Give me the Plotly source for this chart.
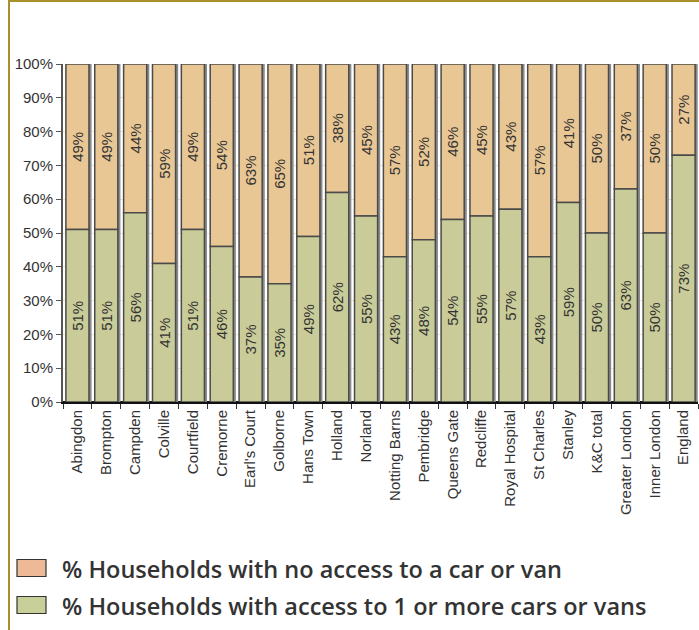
import plotly.graph_objects as go

# Car / van access by ward
wards = ['Abingdon', 'Brompton', 'Campden', 'Colville', 'Courtfield', 'Cremorne', "Earl's Court",
         'Golborne', 'Hans Town', 'Holland', 'Norland', 'Notting Barns', 'Pembridge', 'Queens Gate',
         'Redcliffe', 'Royal Hospital', 'St Charles', 'Stanley', 'K&C total', 'Greater London',
         'Inner London', 'England']
with_car = [51, 51, 56, 41, 51, 46, 37, 35, 49, 62, 55, 43, 48, 54, 55, 57, 43, 59, 50, 63, 50, 73]
no_car = [49, 49, 44, 59, 49, 54, 63, 65, 51, 38, 45, 57, 52, 46, 45, 43, 57, 41, 50, 37, 50, 27]
series_names = ['% Households with no access to a car or van',
                '% Households with access to 1 or more cars or vans']

bar_colors = ['#E9C795', '#C9CC98']
legend_colors = ['#EDB996', '#C9CF98']
outline = '#4a4a4a'
frame = '#A8902A'

W, H = 699, 630
L, R, T, B = 63, 1, 64, 228


def px_x(px):
    return (px - L) / (W - L - R)


def px_y(py):
    return (H - B - py) / (H - T - B)


fig = go.Figure()

totals = [a + b for a, b in zip(with_car, no_car)]

# drop shadow behind each bar
fig.add_trace(go.Bar(x=wards, y=totals, width=0.8, offset=-0.4 + 0.09,
                     marker_color='#8a8a8a', marker_line_width=0,
                     showlegend=False, hoverinfo='skip'))

fig.add_trace(go.Bar(x=wards, y=no_car, base=with_car, name=series_names[0],
                     width=0.8, offset=-0.4,
                     marker_color=bar_colors[0], marker_line_color=outline, marker_line_width=1.5,
                     text=[f'{v}%' for v in no_car], textposition='inside',
                     insidetextanchor='middle', textangle=-90, constraintext='none',
                     textfont=dict(family='Liberation Sans, Arial', size=15, color='#333333'),
                     showlegend=False))

fig.add_trace(go.Bar(x=wards, y=with_car, name=series_names[1],
                     width=0.8, offset=-0.4,
                     marker_color=bar_colors[1], marker_line_color=outline, marker_line_width=1.5,
                     text=[f'{v}%' for v in with_car], textposition='inside',
                     insidetextanchor='middle', textangle=-90, constraintext='none',
                     textfont=dict(family='Liberation Sans, Arial', size=15, color='#333333'),
                     showlegend=False))

fig.update_layout(
    width=W, height=H,
    margin=dict(l=L, r=R, t=T, b=B),
    barmode='overlay',
    uniformtext=dict(minsize=15, mode='show'),
    plot_bgcolor='white', paper_bgcolor='white',
    font=dict(family='Liberation Sans, Arial', size=15, color='#333333'),
)

fig.update_yaxes(range=[0, 100], tickvals=list(range(0, 101, 10)),
                 ticktext=[f'{v}%' for v in range(0, 101, 10)],
                 showgrid=True, gridcolor='#EFE6CC', gridwidth=1,
                 showline=True, linecolor='#555555', linewidth=2,
                 ticks='outside', ticklen=5, tickcolor='#555555',
                 zeroline=True, zerolinecolor='#111111', zerolinewidth=2,
                 tickfont=dict(size=15))

fig.update_xaxes(tickangle=-90, tickson='boundaries', ticks='outside', ticklen=5,
                 tickcolor='#333333', showline=True, linecolor='#111111', linewidth=2,
                 range=[-0.5, len(wards) - 0.5], tickfont=dict(size=15))

# page frame (left and top rules)
fig.add_shape(type='line', xref='paper', yref='paper',
              x0=px_x(9), x1=px_x(9), y0=px_y(0), y1=px_y(H), line=dict(color=frame, width=2))
fig.add_shape(type='line', xref='paper', yref='paper',
              x0=px_x(9), x1=px_x(W), y0=px_y(1), y1=px_y(1), line=dict(color=frame, width=2))

# legend
for i, name in enumerate(series_names):
    cy = 568 + i * 37
    fig.add_shape(type='rect', xref='paper', yref='paper',
                  x0=px_x(17), x1=px_x(46), y0=px_y(cy - 8.5), y1=px_y(cy + 8.5),
                  fillcolor=legend_colors[i], line=dict(color='#333333', width=1.2))
    fig.add_annotation(xref='paper', yref='paper', x=px_x(60), y=px_y(cy + 1),
                       xanchor='left', yanchor='middle', showarrow=False, text=name,
                       font=dict(family='Open Sans, Noto Sans', size=23.5, color='#333333', weight=600))

fig.write_html("out.html", config={'displayModeBar': False},
               post_script="document.body.style.margin='0';document.body.style.overflow='hidden';")
